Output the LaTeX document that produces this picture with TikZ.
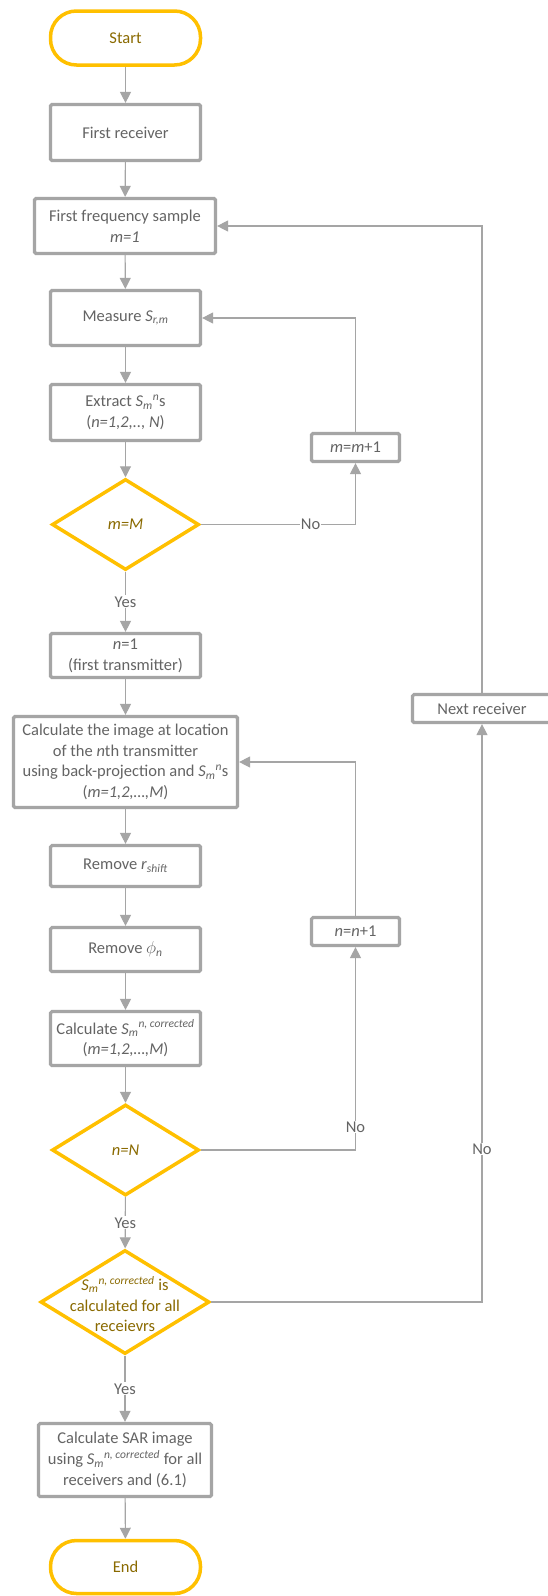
\documentclass[tikz,border=0pt]{standalone}
\usepackage{fontspec}
\setmainfont{Carlito}
\usetikzlibrary{arrows.meta,shapes.geometric}

\definecolor{boxgray}{HTML}{A5A5A5}
\definecolor{linegray}{HTML}{A5A5A5}
\definecolor{txtgray}{HTML}{646464}
\definecolor{gold}{HTML}{FFC000}
\definecolor{goldtxt}{HTML}{8A6A00}

% S with sequential sub- and superscript, as a word processor sets it
\newcommand{\symS}[2]{\textit{S}\textsubscript{\textit{#1}}\textsuperscript{\textit{#2}}}

\begin{document}
\begin{tikzpicture}[x=1pt,y=-1pt,
  basefont/.style={font=\fontsize{16.5}{20.8}\selectfont},
  procbox/.style={basefont, draw=boxgray, line width=3.2pt, fill=white,
    text=txtgray, align=center, inner sep=2pt, rounded corners=1.5pt},
  term/.style={basefont, draw=gold, line width=3.5pt, fill=white,
    text=goldtxt, rounded corners=26pt, minimum width=150pt, minimum height=54pt},
  decis/.style={basefont, diamond, draw=gold, line width=3.5pt, fill=white,
    text=goldtxt, inner sep=0pt, align=center},
  conn/.style={draw=linegray, line width=1.1pt, -{Triangle[length=11pt,width=11pt]}},
  lbl/.style={basefont, fill=white, text=txtgray, inner sep=1pt}]

\fill[white] (0,0) rectangle (547,1596);
\useasboundingbox (0,0) rectangle (547,1596);

% main column
\node[term] (start) at (125.5,38) {Start};
\node[procbox, minimum width=150pt, minimum height=56pt] (recv1) at (125.5,132.5) {First receiver};
\node[procbox, minimum width=181pt, minimum height=55pt] (freq) at (125,226)
  {First frequency sample\\\textit{m=1}};
\node[procbox, minimum width=150pt, minimum height=55pt] (meas) at (125.5,318)
  {Measure \textit{S}\textsubscript{\textit{r,m}}};
\node[procbox, minimum width=150pt, minimum height=56pt] (extr) at (125.5,412.5)
  {Extract \symS{m}{n}s\\(\textit{n=1,2,.., N})};
\node[decis, minimum width=147pt, minimum height=91pt] (dm) at (125.5,524.5) {\textit{m=M}};
\node[procbox, minimum width=150pt, minimum height=44pt] (n1) at (125.5,655.5)
  {\textit{n}=1\\(first transmitter)};
\node[procbox, minimum width=224pt, minimum height=91pt] (calcimg) at (125.5,762)
  {Calculate the image at location\\of the \textit{n}th transmitter\\using back-projection and \symS{m}{n}s\\(\textit{m=1,2,\dots,M})};
\node[procbox, minimum width=150pt, minimum height=41pt] (rshift) at (125.5,866)
  {Remove \textit{r}\textsubscript{\textit{shift}}};
\node[procbox, minimum width=150pt, minimum height=44pt] (phi) at (125.5,949.5)
  {Remove $\phi$\textsubscript{\textit{n}}};
\node[procbox, minimum width=150pt, minimum height=54pt] (calcS) at (125.5,1038.5)
  {Calculate \symS{m}{n, corrected}\\(\textit{m=1,2,\dots,M})};
\node[decis, minimum width=147pt, minimum height=91pt] (dn) at (125.5,1150) {\textit{n=N}};
\node[decis, minimum width=169pt, minimum height=104pt] (dall) at (125,1302) {};
\node[basefont, text=goldtxt, align=center, inner sep=0pt] (dallt) at (125,1304)
  {\symS{m}{n, corrected} is\\calculated for all\\receievrs};
\node[procbox, minimum width=173pt, minimum height=73pt] (sar) at (125,1460)
  {Calculate SAR image\\using \symS{m}{n, corrected} for all\\receivers and (6.1)};
\node[term, minimum height=53pt] (end) at (125.5,1567) {End};

% loop boxes on the right
\node[procbox, minimum width=88pt, minimum height=28pt] (mplus) at (355.5,447.5)
  {\textit{m}=\textit{m}+1};
\node[procbox, minimum width=88pt, minimum height=28pt] (nplus) at (355.5,931.5)
  {\textit{n}=\textit{n}+1};
\node[procbox, minimum width=139pt, minimum height=28pt] (next) at (482,708.5)
  {Next receiver};

% straight flow
\draw[conn] (start) -- (recv1);
\draw[conn] (recv1) -- (freq);
\draw[conn] (freq) -- (meas);
\draw[conn] (meas) -- (extr);
\draw[conn] (extr) -- (dm);
\draw[conn] (dm) -- node[lbl]{Yes} (n1);
\draw[conn] (n1) -- (calcimg);
\draw[conn] (calcimg) -- (rshift);
\draw[conn] (rshift) -- (phi);
\draw[conn] (phi) -- (calcS);
\draw[conn] (calcS) -- (dn);
\draw[conn] (dn) -- node[lbl]{Yes} (dall);
\draw[conn] (dall) -- node[lbl]{Yes} (sar);
\draw[conn] (sar) -- (end);

% frequency loop
\draw[conn] (dm.east) -- node[lbl, pos=0.71]{No} (dm.east -| mplus) -- (mplus);
\draw[conn] (mplus) -- (mplus |- meas) -- (meas.east);

% transmitter loop
\draw[conn] (dn.east) -- (dn.east -| nplus) -- node[lbl, pos=0.113]{No} (nplus);
\draw[conn] (nplus) -- (nplus |- calcimg) -- (calcimg.east);

% receiver loop
\draw[conn] (dall.east) -- (dall.east -| next) -- node[lbl, pos=0.265]{No} (next);
\draw[conn] (next) -- (next |- freq) -- (freq.east);
\end{tikzpicture}
\end{document}
